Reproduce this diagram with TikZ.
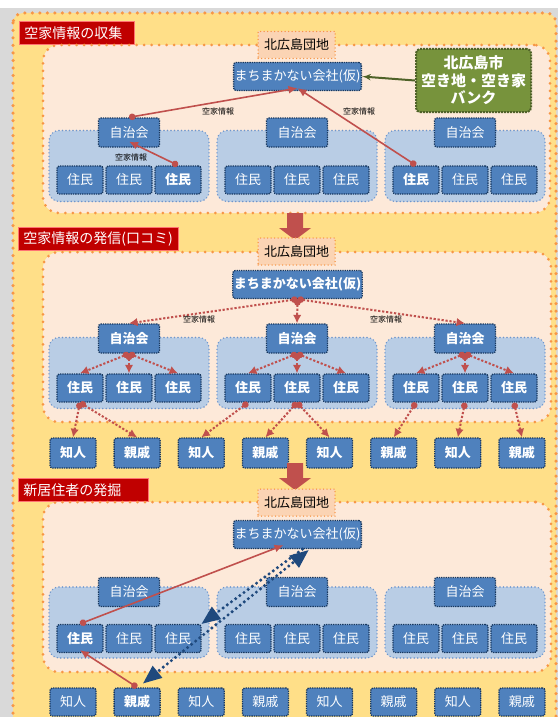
\documentclass[tikz,border=0pt]{standalone}
\usepackage{fontspec}
\usepackage{xcolor}
\usepackage{tikz}
\usetikzlibrary{arrows, arrows.meta, positioning, fit, calc}

\newfontfamily\jpfont{Noto Sans CJK JP}
\newcommand{\nodesize}{\fontsize{13}{15}\selectfont}

\definecolor{pagegray}{RGB}{217,217,217}
\definecolor{pageyellow}{RGB}{255,223,136}
\definecolor{dotorange}{RGB}{247,150,70}
\definecolor{areapeach}{RGB}{253,233,217}
\definecolor{estateorange}{RGB}{251,212,180}
\definecolor{groupblue}{RGB}{185,205,229}
\definecolor{groupedge}{RGB}{110,150,205}
\definecolor{nodeblue}{RGB}{79,129,189}
\definecolor{nodeedge}{RGB}{23,55,94}
\definecolor{titlered}{RGB}{192,0,0}
\definecolor{flowred}{RGB}{192,80,77}
\definecolor{bankgreen}{RGB}{119,147,60}
\definecolor{bankedge}{RGB}{79,98,40}
\definecolor{linkblue}{RGB}{31,73,125}

\begin{document}
\begin{tikzpicture}[
    x=1pt, y=-1pt,
    font=\jpfont,
    area/.style={rectangle, draw=dotorange, fill=areapeach, line width=3pt, line cap=round, dash pattern=on 0pt off 7.5pt, rounded corners=16pt, inner sep=0pt},
    estate/.style={rectangle, draw=dotorange, fill=estateorange, line width=1.5pt, line cap=round, dash pattern=on 0pt off 3.5pt, minimum width=77pt, minimum height=27pt, inner sep=1pt, font=\jpfont\nodesize},
    group/.style={rectangle, draw=groupedge, fill=groupblue, line width=1.6pt, line cap=round, dash pattern=on 0pt off 3.5pt, rounded corners=10pt, minimum width=160pt, minimum height=71pt},
    member/.style={rectangle, draw=nodeedge, fill=nodeblue, densely dotted, line width=1.3pt, rounded corners=2.5pt, text=white, minimum width=46pt, minimum height=28pt, inner sep=1pt, font=\jpfont\nodesize},
    council/.style={member, minimum width=61pt, minimum height=29pt},
    company/.style={member, minimum width=127pt, minimum height=28pt},
    plain/.style={},
    hl/.style={font=\jpfont\bfseries\nodesize},
    titlebox/.style={rectangle, draw=red!55!white, fill=titlered, line width=0.6pt, text=white, anchor=west, minimum height=23pt, inner xsep=5pt, align=left, font=\jpfont\fontsize{14}{16}\selectfont},
    bank/.style={rectangle, draw=bankedge, fill=bankgreen, densely dotted, line width=2pt, rounded corners=4pt, text=white, align=center, minimum width=115pt, minimum height=63pt, inner sep=1pt, font=\jpfont\bfseries\fontsize{15}{17.5}\selectfont},
    info/.style={font=\jpfont\fontsize{8}{9}\selectfont, inner sep=0pt},
    line/.style={draw=flowred, line width=1.6pt, {Circle[length=6.5pt]}-{Latex[length=9pt,width=8pt]}},
    dotline/.style={draw=flowred, line width=2pt, dash pattern=on 2.2pt off 1.8pt, {Circle[length=6.5pt]}-{Latex[length=8.5pt,width=8.5pt]}},
    link/.style={draw=linkblue, line width=3.4pt, line cap=round, dash pattern=on 0pt off 5.2pt},
    bankline/.style={draw=bankedge, line width=2pt, -latex'}
]
    \useasboundingbox (0,0) rectangle (558,717);

    % page background
    \fill [white] (0,0) rectangle (558,717);
    \fill [pagegray] (0,8) rectangle (558,717);
    \draw [draw=dotorange, fill=pageyellow, line width=3.5pt, line cap=round, dash pattern=on 0pt off 7.5pt, rounded corners=10pt] (13,13) rectangle (556,740);

    % ---------- Section 1: collecting vacant-house info
    \node [titlebox, text width=105pt] (title-a) at (19,33) {空家情報の収集};
    \node [area, fit={(43,45) (550,213)}] (area-a) {};
    \node [estate] (estate-a) at (296.5,45) {北広島団地};
    \node [company] (company-a) at (297.5,76.5) {まちまかない会社(仮)};
    \node [bank] (bank) at (473.5,80.5) {北広島市\\空き地・空き家\\バンク};

    \foreach \g/\cx/\sa/\sb/\sc in {1/129/plain/plain/hl, 2/297/plain/plain/plain, 3/465/hl/plain/plain} {
        \node [group] (group-a\g) at (\cx,166) {};
        \node [council] (jichi-a\g) at (\cx,132.5) {自治会};
        \node [member, \sa] (jumin-a\g-1) at (\cx-49,180) {住民};
        \node [member, \sb] (jumin-a\g-2) at (\cx,180) {住民};
        \node [member, \sc] (jumin-a\g-3) at (\cx+49,180) {住民};
    }

    \path [line] (jumin-a1-3.north) -- ([yshift=6pt]jichi-a1.south);
    \path [line] (jichi-a1.north) -- ([yshift=3pt]company-a.south);
    \path [line] (jumin-a3-1.north) -- ([yshift=3pt]company-a.south);
    \path [bankline] (bank.west) -- (company-a.east);

    \node [info] at (218,111) {空家情報};
    \node [info] at (359,111) {空家情報};
    \node [info] at (131,157.5) {空家情報};

    % arrow to next section
    \fill [flowred] (287,213) -- (303,213) -- (303,228) -- (311,228) -- (295,240) -- (279,228) -- (287,228) -- cycle;

    % ---------- Section 2: spreading info by word of mouth
    \node [titlebox, text width=150pt] (title-b) at (18,239) {空家情報の発信(口コミ)};
    \node [area, fit={(43,252) (551,422)}] (area-b) {};
    \node [estate] (estate-b) at (296.5,251.5) {北広島団地};
    \node [company, hl] (company-b) at (297.5,284.5) {まちまかない会社(仮)};

    \foreach \g/\cx in {1/129, 2/297, 3/465} {
        \node [group] (group-b\g) at (\cx,373) {};
        \node [council, hl] (jichi-b\g) at (\cx,338.5) {自治会};
        \node [member, hl] (jumin-b\g-1) at (\cx-49,388) {住民};
        \node [member, hl] (jumin-b\g-2) at (\cx,388) {住民};
        \node [member, hl] (jumin-b\g-3) at (\cx+49,388) {住民};
        \path [dotline] (company-b.south) -- (jichi-b\g.north);
        \path [dotline] (jichi-b\g.south) -- (jumin-b\g-1.north);
        \path [dotline] (jichi-b\g.south) -- (jumin-b\g-2.north);
        \path [dotline] (jichi-b\g.south) -- (jumin-b\g-3.north);
    }

    \foreach \i/\txt in {1/知人, 2/親戚, 3/知人, 4/親戚, 5/知人, 6/親戚, 7/知人, 8/親戚} {
        \node [member, hl, minimum height=30pt] (friend-b\i) at ({73+64.14*(\i-1)},453) {\txt};
    }

    \path [dotline] (jumin-b1-1.south) -- (friend-b1.north);
    \path [dotline] (jumin-b1-1.south) -- (friend-b2.north);
    \path [dotline] (jumin-b2-1.south) -- (friend-b3.north);
    \path [dotline] (jumin-b2-2.south) -- (friend-b4.north);
    \path [dotline] (jumin-b2-2.south) -- (friend-b5.north);
    \path [dotline] (jumin-b3-1.south) -- (friend-b6.north);
    \path [dotline] (jumin-b3-2.south) -- (friend-b7.north);
    \path [dotline] (jumin-b3-3.south) -- (friend-b8.north);

    \node [info] at (199,319.5) {空家情報};
    \node [info] at (386,319.5) {空家情報};

    % arrow to next section
    \fill [flowred] (287,463) -- (303,463) -- (303,478) -- (311,478) -- (295,490) -- (279,478) -- (287,478) -- cycle;

    % ---------- Section 3: finding new residents
    \node [titlebox, text width=120pt] (title-c) at (18,490) {新居住者の発掘};
    \node [area, fit={(43,502) (551,672)}] (area-c) {};
    \node [estate] (estate-c) at (296.5,502.5) {北広島団地};
    \node [company] (company-c) at (297.5,534.5) {まちまかない会社(仮)};

    \foreach \g/\cx/\sa in {1/129/hl, 2/297/plain, 3/465/plain} {
        \node [group] (group-c\g) at (\cx,622.5) {};
        \node [council] (jichi-c\g) at (\cx,592) {自治会};
        \node [member, \sa] (jumin-c\g-1) at (\cx-49,638.5) {住民};
        \node [member] (jumin-c\g-2) at (\cx,638.5) {住民};
        \node [member] (jumin-c\g-3) at (\cx+49,638.5) {住民};
    }

    \foreach \i/\txt/\st in {1/知人/plain, 2/親戚/hl, 3/知人/plain, 4/親戚/plain, 5/知人/plain, 6/親戚/plain, 7/知人/plain, 8/親戚/plain} {
        \node [member, \st] (friend-c\i) at ({73+64.14*(\i-1)},702) {\txt};
    }

    \path [line] (jumin-c1-1.north) -- ([xshift=-14pt,yshift=4pt]company-c.south);
    \path [line] (friend-c2.north) -- ([yshift=3pt]jumin-c1-1.south);
    \draw [link, -triangle 45] ([xshift=5pt]company-c.south) -- (jumin-c1-3.north east);
    \draw [link, triangle 45-triangle 45] ([xshift=6pt,yshift=4pt]friend-c2.north) -- ([xshift=11pt,yshift=-1pt]company-c.south);

\end{tikzpicture}
\end{document}
